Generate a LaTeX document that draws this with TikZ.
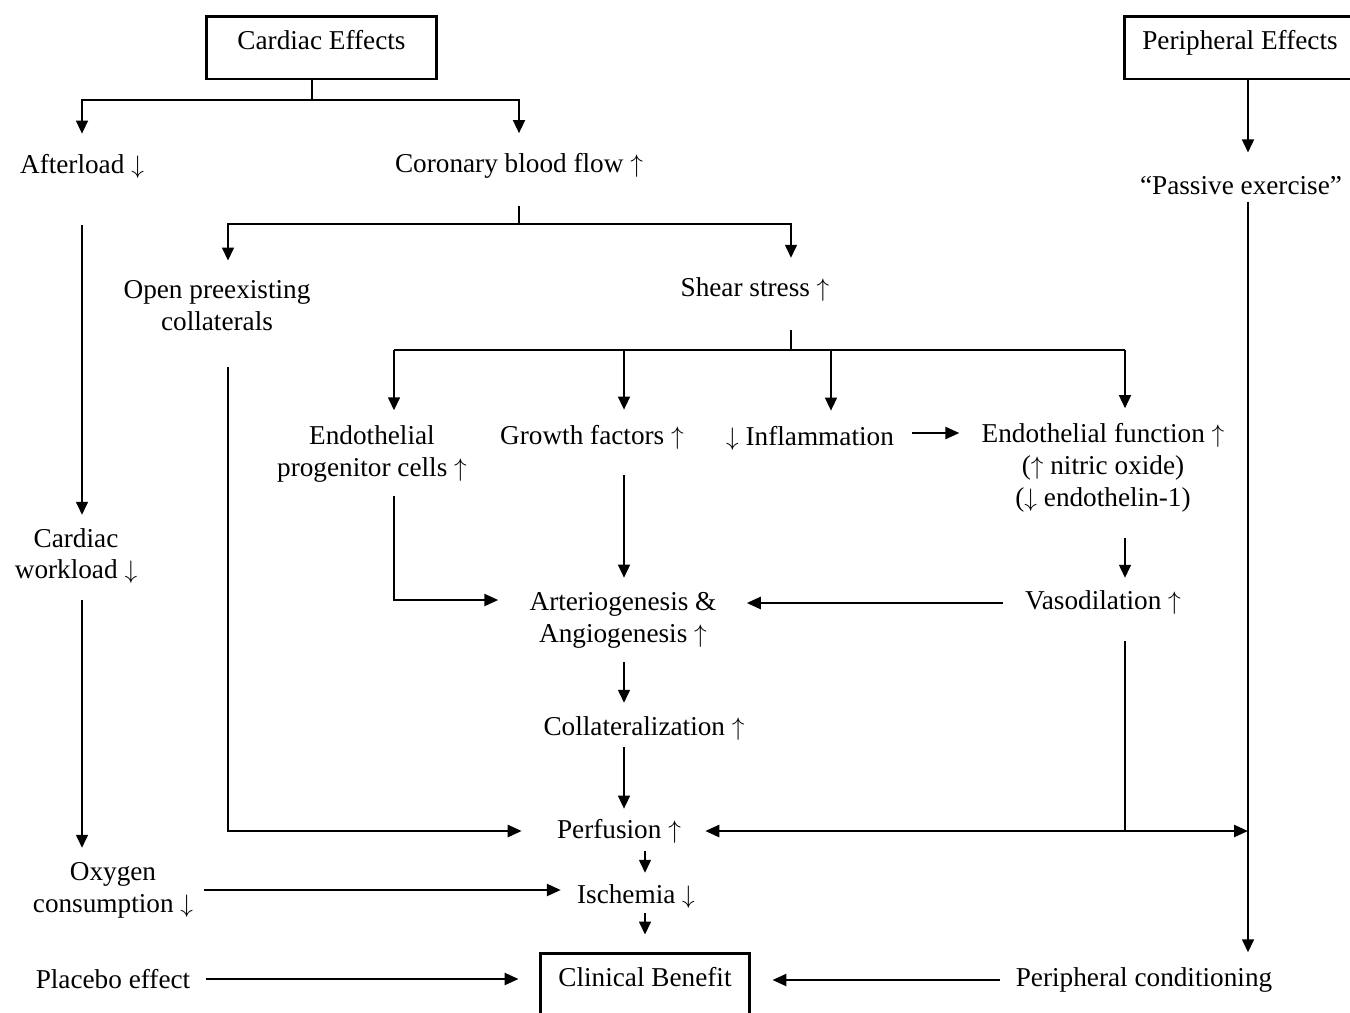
\documentclass[tikz,border=0pt]{standalone}
\usepackage{fontspec}
\setmainfont{Liberation Serif}
\usetikzlibrary{arrows.meta}
\newcommand{\pxl}{0.02cm}
\newcommand{\upar}{$\uparrow$}
\newcommand{\dnar}{$\downarrow$}

\begin{document}
\begin{tikzpicture}[x=0.02cm,y=-0.02cm,
    every node/.style={font=\fontsize{15.5pt}{18.2pt}\selectfont},
    txt/.style={inner sep=0pt,align=center},
    box/.style={draw,line width=1.7pt,inner sep=0pt,text depth=8.5pt,minimum width=4.62cm,minimum height=1.26cm},
    flow/.style={line width=0.9pt,-{Triangle[length=0.26cm,width=0.24cm]}},
    flowthick/.style={line width=1.4pt,-{Triangle[length=0.28cm,width=0.24cm]}}]
            \useasboundingbox (0,0) rectangle (1350,1012);
            \node[box] (cardiac) at (321.5,47.5) {Cardiac Effects};
            \node[box] (periph) at (1240,47.5) {Peripheral Effects};
            \node[box,minimum width=4.2cm] (clinical) at (645,984.5) {Clinical Benefit};
            \node[txt] (afterload) at (82,166) {Afterload \dnar};
            \node[txt] (coronary) at (519,166) {Coronary blood flow \upar};
            \node[txt] (passive) at (1241,186) {“Passive exercise”};
            \node[txt] (openpre) at (217,306) {Open preexisting\\collaterals};
            \node[txt] (shear) at (755,290) {Shear stress \upar};
            \node[txt] (epc) at (372,454) {Endothelial\\progenitor cells \upar};
            \node[txt] (growth) at (592,437) {Growth factors \upar};
            \node[txt] (inflam) at (810,438) {\dnar{} Inflammation};
            \node[txt] (endofn) at (1103,468) {Endothelial function \upar\\(\upar{} nitric oxide)\\(\dnar{} endothelin-1)};
            \node[txt] (workload) at (76,556) {Cardiac\\workload \dnar};
            \node[txt] (arterio) at (623,620) {Arteriogenesis \&\\Angiogenesis \upar};
            \node[txt] (vasodil) at (1103,603) {Vasodilation \upar};
            \node[txt] (collat) at (644,728) {Collateralization \upar};
            \node[txt] (perfusion) at (619,831) {Perfusion \upar};
            \node[txt] (oxygen) at (113,890) {Oxygen\\consumption \dnar};
            \node[txt] (ischemia) at (636,896) {Ischemia \dnar};
            \node[txt] (placebo) at (113,979) {Placebo effect};
            \node[txt] (periphcond) at (1144,980) {Peripheral conditioning};
            \coordinate (cj) at (312,100);
            \coordinate (crj) at (519,224);
            \coordinate (sj) at (791,350);
            \coordinate (colL) at (82,0);
            \coordinate (colO) at (228,0);
            \coordinate (colE) at (394,0);
            \coordinate (colG) at (624,0);
            \coordinate (colI) at (831,0);
            \coordinate (colF) at (1125,0);
            \coordinate (colC) at (645,0);
            \coordinate (colP) at (1248,0);
            \coordinate (arow) at (0,600);
            \draw[line width=0.9pt] (cardiac.south -| cj) -- (cj);
            \draw[flow,shorten >=20*\pxl] (cj) -| (afterload.north);
            \draw[flow,shorten >=20*\pxl] (cj) -| (coronary.north);
            \draw[flow,shorten <=47*\pxl,shorten >=13*\pxl] (afterload.south) -- (afterload.south |- workload.north);
            \draw[flow,shorten <=16*\pxl,shorten >=14*\pxl] (workload.south -| colL) -- (oxygen.north -| colL);
            \draw[line width=0.9pt,shorten <=27*\pxl] (coronary.south) -- (crj);
            \draw[flow,shorten >=20*\pxl] (crj) -| (openpre.north -| colO);
            \draw[flow,shorten >=20*\pxl] (crj) -| (shear.north -| sj);
            \draw[line width=0.9pt,shorten <=28*\pxl] (shear.south -| sj) -- (sj);
            \draw[line width=1.2pt] (sj -| colE) -- (sj -| colF);
            \foreach \n/\c in {epc/colE,growth/colG,inflam/colI,endofn/colF}
                \draw[flow,shorten >=15*\pxl] (sj -| \c) -- (\n.north -| \c);
            \draw[flowthick,shorten <=13*\pxl,shorten >=31*\pxl] (epc.south -| colE) |- (arow -| arterio.west);
            \draw[flow,shorten <=26*\pxl,shorten >=14*\pxl] (growth.south -| colG) -- (arterio.north -| colG);
            \draw[flowthick,shorten <=18*\pxl,shorten >=22*\pxl] ([yshift=5*\pxl]inflam.east) -- ([yshift=5*\pxl]inflam.east -| endofn.west);
            \draw[flow,shorten <=25*\pxl,shorten >=13*\pxl] (endofn.south -| colF) -- (vasodil.north -| colF);
            \draw[flowthick,shorten <=22*\pxl,shorten >=30*\pxl] (vasodil.west) -- (vasodil.west -| arterio.east);
            \draw[line width=0.9pt,shorten <=26*\pxl] (vasodil.south -| colF) -- (perfusion.east -| colF);
            \draw[flowthick,{Triangle[length=0.28cm,width=0.24cm]}-{Triangle[length=0.28cm,width=0.24cm]},shorten <=24*\pxl] (perfusion.east) -- (perfusion.east -| colP);
            \draw[flow,shorten <=14*\pxl,shorten >=13*\pxl] (arterio.south -| colG) -- (collat.north -| colG);
            \draw[flow,shorten <=7*\pxl,shorten >=10*\pxl] (collat.south -| colG) -- (perfusion.north -| colG);
            \draw[flowthick,shorten <=36*\pxl,shorten >=35*\pxl] (openpre.south -| colO) |- (perfusion.west);
            \draw[flow,shorten <=8*\pxl,shorten >=11*\pxl] (perfusion.south -| colC) -- (ischemia.north -| colC);
            \draw[flowthick,shorten <=11*\pxl,shorten >=16*\pxl] (oxygen.east) -- (oxygen.east -| ischemia.west);
            \draw[flow,shorten <=5*\pxl,shorten >=17*\pxl] (ischemia.south -| colC) -- (clinical.north);
            \draw[flowthick,shorten <=15*\pxl,shorten >=20*\pxl] (placebo.east) -- (placebo.east -| clinical.west);
            \draw[flowthick,shorten <=15*\pxl,shorten >=21*\pxl] (periphcond.west) -- (periphcond.west -| clinical.east);
            \draw[flow,shorten >=24*\pxl] (periph.south -| colP) -- (passive.north -| colP);
            \draw[flow,shorten <=6*\pxl,shorten >=15*\pxl] (passive.south -| colP) -- (periphcond.north -| colP);
        \end{tikzpicture}
\end{document}
